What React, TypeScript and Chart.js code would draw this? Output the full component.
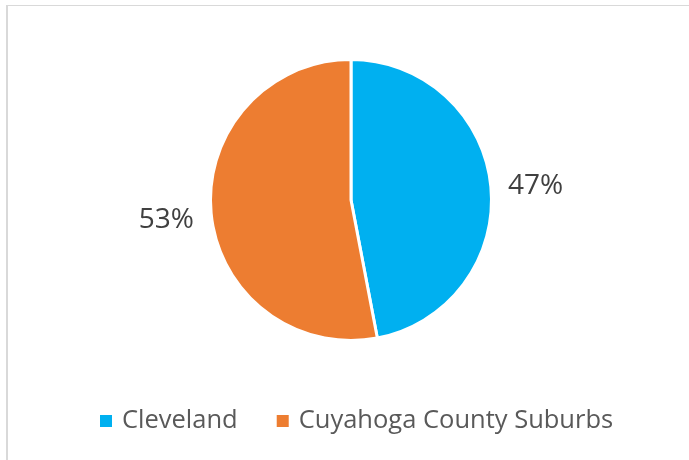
import React, { useEffect, useRef } from "react";
import { Chart, registerables } from "chart.js";

Chart.register(...registerables);

const categories = ["Cleveland", "Cuyahoga County Suburbs"];
const shares = [47, 53];
const colors = ["#00B0F0", "#ED7D31"];

const FONT = "'Open Sans', 'Liberation Sans', sans-serif";

const labelPlugin = {
  id: "outsideLabels",
  afterDatasetsDraw(chart: any) {
    const ctx = chart.ctx;
    const meta = chart.getDatasetMeta(0);
    const data = chart.data.datasets[0].data as number[];
    ctx.save();
    ctx.font = `28px ${FONT}`;
    ctx.fillStyle = "#404040";
    ctx.textAlign = "center";
    ctx.textBaseline = "middle";
    meta.data.forEach((arc: any, i: number) => {
      const { x, y, startAngle, endAngle, outerRadius } = arc.getProps(
        ["x", "y", "startAngle", "endAngle", "outerRadius"],
        true
      );
      const mid = (startAngle + endAngle) / 2;
      const r = outerRadius + 45;
      ctx.fillText(`${data[i]}%`, x + Math.cos(mid) * r, y + Math.sin(mid) * r + 3);
    });
    ctx.restore();
  },
};

const legendPlugin = {
  id: "customLegend",
  afterDraw(chart: any) {
    const ctx = chart.ctx;
    const labels = chart.data.labels as string[];
    const bg = chart.data.datasets[0].backgroundColor as string[];
    ctx.save();
    ctx.font = `25.5px ${FONT}`;
    const box = 12;
    const gapText = 10;
    const gapItem = 39;
    const widths = labels.map((l) => ctx.measureText(l).width);
    let x = 100;
    const cy = 421;
    ctx.textBaseline = "middle";
    ctx.textAlign = "left";
    labels.forEach((l, i) => {
      ctx.fillStyle = bg[i];
      ctx.fillRect(x, cy - box / 2, box, box);
      x += box + gapText;
      ctx.fillStyle = "#595959";
      ctx.fillText(l, x, cy);
      x += widths[i] + gapItem;
    });
    ctx.restore();
  },
};

export default function App() {
  const ref = useRef<HTMLCanvasElement | null>(null);
  useEffect(() => {
    if (!ref.current) return;
    const chart = new Chart(ref.current, {
      type: "pie",
      data: {
        labels: categories,
        datasets: [
          {
            data: shares,
            backgroundColor: colors,
            borderColor: "#ffffff",
            borderWidth: 3,
          },
        ],
      },
      options: {
        responsive: false,
        animation: false,
        layout: { padding: { left: 13, right: 0, top: 58, bottom: 118 } },
        plugins: {
          legend: { display: false },
          tooltip: { enabled: false },
        },
      },
      plugins: [labelPlugin, legendPlugin],
    });
    return () => chart.destroy();
  }, []);

  return (
    <div
      style={{
        position: "fixed",
        left: 0,
        top: 0,
        width: 689,
        height: 460,
        background: "#ffffff",
        overflow: "hidden",
      }}
    >
      <div
        style={{
          position: "absolute",
          left: 6,
          top: 5,
          width: 689,
          height: 460,
          borderTop: "1px solid #d9d9d9",
          borderLeft: "2px solid #d9d9d9",
        }}
      />
      <canvas
        ref={ref}
        width={689}
        height={460}
        style={{ position: "absolute", left: 0, top: 0, width: 689, height: 460 }}
      />
    </div>
  );
}
